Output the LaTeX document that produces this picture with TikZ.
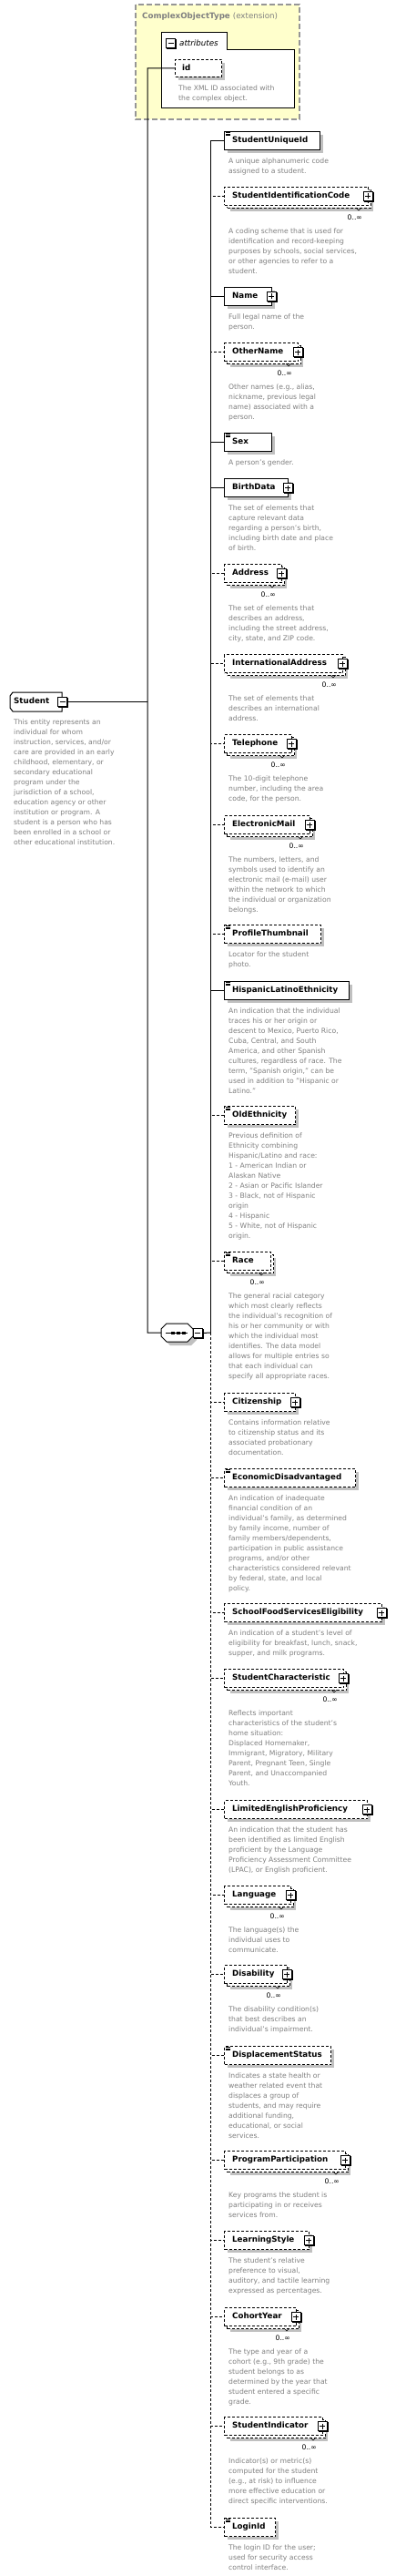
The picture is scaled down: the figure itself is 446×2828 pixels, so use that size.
\documentclass[tikz,border=0pt]{standalone}
\usepackage{fontspec}
\setmainfont{DejaVu Sans}
\usetikzlibrary{calc}
\definecolor{docgray}{RGB}{128,128,128}
\definecolor{shadowgray}{RGB}{192,192,192}
\definecolor{cotyellow}{RGB}{255,255,204}
\definecolor{cotborder}{RGB}{150,150,150}
\tikzset{
  elbox/.style={draw=black, line width=1pt, fill=white, inner sep=0pt, minimum height=20pt, anchor=north west},
  optbox/.style={dash pattern=on 3pt off 2pt},
  reqbox/.style={solid},
  nametext/.style={font=\fontsize{8.7}{10}\selectfont\bfseries, inner sep=0pt, anchor=west, text height=6.3pt, text depth=1.8pt},
  doctext/.style={font=\fontsize{7.65}{11}\selectfont, text=docgray, align=left, inner sep=0pt, anchor=north west},
  multtext/.style={font=\fontsize{7.65}{9}\selectfont, inner sep=0pt, anchor=east},
  iconbox/.style={draw=black, line width=0.8pt, fill=white, minimum size=10pt, inner sep=0pt},
  conn/.style={line width=1pt},
  optconn/.style={line width=1pt, dash pattern=on 3pt off 2pt},
}
\newcommand\iconplus[1]{%
  \node[iconbox,fill=black] at ([shift={(0.2,1.2)}]#1.east) {};
  \node[iconbox] (#1p) at ([xshift=-1pt]#1.east) {};
  \draw[line width=0.8pt] ([xshift=-3pt]#1p.center) -- ([xshift=3pt]#1p.center)
    ([yshift=-3pt]#1p.center) -- ([yshift=3pt]#1p.center);
}
\newcommand\iconeq[1]{%
  \draw[line width=0.5pt] ([shift={(2,1.5)}]#1.north west) -- ++(5,0)
    ([shift={(2,3)}]#1.north west) -- ++(5,0)
    ([shift={(2,4.5)}]#1.north west) -- ++(5,0);
}
\newcommand\iconminus[2]{% name, centre
  \node[iconbox,fill=black] at ($(#2)+(1.2,1.2)$) {};
  \node[iconbox] (#1) at (#2) {};
  \draw[line width=0.8pt] ([xshift=-3pt]#1.center) -- ([xshift=3pt]#1.center);
}
% single element: id, name, top, right, border, icon, doc
\newcommand\elS[7]{%
  \fill[shadowgray] (250,#3+4) rectangle (#4+4,#3+24);
  \node[elbox,#5,minimum width=#4-246] (#1) at (246,#3) {};
  \node[nametext] (#1t) at ([xshift=9pt]#1.west) {#2};
  \csname icon#6\endcsname{#1}
  \node[doctext] (#1d) at (251,#3+29) {#7};
}
% multiple element: id, name, top, right, icon, doc
\newcommand\elM[6]{%
  \fill[shadowgray] (253,#3+7) rectangle (#4+3,#3+27);
  \node[elbox,optbox,minimum width=#4-249] (#1b) at (249,#3+3) {};
  \node[elbox,optbox,minimum width=#4-249] (#1) at (246,#3) {};
  \draw[line width=0.6pt] (#4-16,#3+23) -- (#4-13,#3+26) -- (#4-10,#3+23);
  \node[multtext] (#1m) at (#4-9,#3+34) {0..∞};
  \node[nametext] (#1t) at ([xshift=9pt]#1.west) {#2};
  \csname icon#5\endcsname{#1}
  \node[doctext] (#1d) at (251,#3+45) {#6};
}
\begin{document}
\begin{tikzpicture}[x=1pt,y=-1pt]
\useasboundingbox[fill=white] (0,0) rectangle (446,2828);
% ComplexObjectType container
\draw[draw=cotborder, line width=1.5pt, dash pattern=on 6pt off 3pt, fill=cotyellow] (149,5) rectangle (329,131);
\node[anchor=west, inner sep=0pt, text=docgray, font=\fontsize{8.7}{10}\selectfont] (cot) at (156,18) {\bfseries ComplexObjectType \mdseries(extension)};
\draw[line width=1pt, fill=white] (177,36) -- (249,36) -- (249,55) -- (323,55) -- (323,119) -- (177,119) -- cycle;
\iconminus{attm}{187.5,47}
\node[anchor=west, inner sep=0pt, font=\fontsize{8.7}{10}\selectfont\itshape] (attt) at (197,47) {attributes};
\fill[shadowgray] (196,69) rectangle (247,88);
\node[elbox, optbox, minimum width=51, minimum height=19] (idb) at (192,65) {};
\node[nametext] (idt) at ([xshift=8pt]idb.west) {id};
\node[doctext] (idd) at (196,93) {The XML ID associated with\\the complex object.};
% Student
\node[inner sep=0pt, minimum width=57, minimum height=21, anchor=north west] (stu) at (11,760) {};
\draw[line width=1pt, fill=white] (14,760) -- (68,760) -- (68,781) -- (14,781) -- (11,777) -- (11,764) -- cycle;
\node[nametext] (stut) at (15,770.5) {Student};
\iconminus{stum}{68.5,770.5}
\node[doctext] (stud) at (15,789) {This entity represents an\\individual for whom\\instruction, services, and/or\\care are provided in an early\\childhood, elementary, or\\secondary educational\\program under the\\jurisdiction of a school,\\education agency or other\\institution or program. A\\student is a person who has\\been enrolled in a school or\\other educational institution.};
% sequence
\node[inner sep=0pt, minimum width=35, minimum height=20, anchor=north west] (seq) at (177,1453) {};
\fill[shadowgray] (187,1457) -- (210,1457) -- (216,1463) -- (216,1471) -- (210,1477) -- (187,1477) -- (181,1471) -- (181,1463) -- cycle;
\draw[line width=1pt, fill=white] (183,1453) -- (206,1453) -- (212,1459) -- (212,1467) -- (206,1473) -- (183,1473) -- (177,1467) -- (177,1459) -- cycle;
\draw[line width=1pt] (182,1463) -- (206,1463);
\fill (187.5,1461.5) rectangle ++(4,3);
\fill (193.5,1461.5) rectangle ++(4,3);
\fill (199.5,1461.5) rectangle ++(4,3);
\iconminus{seqm}{217,1463.5}
% elements
\elS{sui}{StudentUniqueId}{144}{351}{reqbox}{eq}{A unique alphanumeric code\\assigned to a student.}
\elM{sic}{StudentIdentificationCode}{205}{407}{plus}{A coding scheme that is used for\\identification and record-keeping\\purposes by schools, social services,\\or other agencies to refer to a\\student.}
\elS{nam}{Name}{315}{298}{reqbox}{plus}{Full legal name of the\\person.}
\elM{oth}{OtherName}{376}{330}{plus}{Other names (e.g., alias,\\nickname, previous legal\\name) associated with a\\person.}
\elS{sex}{Sex}{475}{298}{reqbox}{eq}{A person's gender.}
\elS{bir}{BirthData}{525}{316}{reqbox}{plus}{The set of elements that\\capture relevant data\\regarding a person's birth,\\including birth date and place\\of birth.}
\elM{adr}{Address}{619}{312}{plus}{The set of elements that\\describes an address,\\including the street address,\\city, state, and ZIP code.}
\elM{ina}{InternationalAddress}{718}{379}{plus}{The set of elements that\\describes an international\\address.}
\elM{tel}{Telephone}{806}{323}{plus}{The 10-digit telephone\\number, including the area\\code, for the person.}
\elM{eml}{ElectronicMail}{895}{343}{plus}{The numbers, letters, and\\symbols used to identify an\\electronic mail (e-mail) user\\within the network to which\\the individual or organization\\belongs.}
\elS{pth}{ProfileThumbnail}{1015}{352}{optbox}{eq}{Locator for the student\\photo.}
\elS{hle}{HispanicLatinoEthnicity}{1077}{383}{reqbox}{eq}{An indication that the individual\\traces his or her origin or\\descent to Mexico, Puerto Rico,\\Cuba, Central, and South\\America, and other Spanish\\cultures, regardless of race. The\\term, "Spanish origin," can be\\used in addition to "Hispanic or\\Latino."}
\elS{old}{OldEthnicity}{1214}{324}{optbox}{eq}{Previous definition of\\Ethnicity combining\\Hispanic/Latino and race:\\1 - American Indian or\\Alaskan Native\\2 - Asian or Pacific Islander\\3 - Black, not of Hispanic\\origin\\4 - Hispanic\\5 - White, not of Hispanic\\origin.}
\elM{rac}{Race}{1374}{300}{eq}{The general racial category\\which most clearly reflects\\the individual's recognition of\\his or her community or with\\which the individual most\\identifies. The data model\\allows for multiple entries so\\that each individual can\\specify all appropriate races.}
\elS{cit}{Citizenship}{1529}{324}{optbox}{plus}{Contains information relative\\to citizenship status and its\\associated probationary\\documentation.}
\elS{eco}{EconomicDisadvantaged}{1612}{390}{optbox}{eq}{An indication of inadequate\\financial condition of an\\individual's family, as determined\\by family income, number of\\family members/dependents,\\participation in public assistance\\programs, and/or other\\characteristics considered relevant\\by federal, state, and local\\policy.}
\elS{sfs}{SchoolFoodServicesEligibility}{1760}{419}{optbox}{plus}{An indication of a student's level of\\eligibility for breakfast, lunch, snack,\\supper, and milk programs.}
\elM{sch}{StudentCharacteristic}{1832}{380}{plus}{Reflects important\\characteristics of the student's\\home situation:\\Displaced Homemaker,\\Immigrant, Migratory, Military\\Parent, Pregnant Teen, Single\\Parent, and Unaccompanied\\Youth.}
\elS{lep}{LimitedEnglishProficiency}{1976}{403}{optbox}{plus}{An indication that the student has\\been identified as limited English\\proficient by the Language\\Proficiency Assessment Committee\\(LPAC), or English proficient.}
\elM{lan}{Language}{2070}{322}{plus}{The language(s) the\\individual uses to\\communicate.}
\elM{dis}{Disability}{2157}{318}{plus}{The disability condition(s)\\that best describes an\\individual's impairment.}
\elS{dsp}{DisplacementStatus}{2246}{363}{optbox}{eq}{Indicates a state health or\\weather related event that\\displaces a group of\\students, and may require\\additional funding,\\educational, or social\\services.}
\elM{prg}{ProgramParticipation}{2361}{382}{plus}{Key programs the student is\\participating in or receives\\services from.}
\elS{lst}{LearningStyle}{2449}{339}{optbox}{plus}{The student's relative\\preference to visual,\\auditory, and tactile learning\\expressed as percentages.}
\elM{coh}{CohortYear}{2533}{328}{plus}{The type and year of a\\cohort (e.g., 9th grade) the\\student belongs to as\\determined by the year that\\student entered a specific\\grade.}
\elM{sin}{StudentIndicator}{2653}{357}{plus}{Indicator(s) or metric(s)\\computed for the student\\(e.g., at risk) to influence\\more effective education or\\direct specific interventions.}
\elS{log}{LoginId}{2764}{302}{optbox}{eq}{The login ID for the user;\\used for security access\\control interface.}
% connectors
\coordinate (j) at (162,1463);
\coordinate (seqR) at (231,1463);
\draw[conn] (seq.west) -- (j) |- (idb.west);
\draw[conn] (stum.east) -- (j |- stum.east);
\draw[conn] (seqm.east) -- (seqR);
\foreach \n in {sui,nam,sex,bir,hle} \draw[conn] (seqR) |- (\n.west);
\foreach \n in {sic,oth,adr,ina,tel,eml,pth,old,rac,cit,eco,sfs,sch,lep,lan,dis,dsp,prg,lst,coh,sin,log} \draw[optconn] (seqR) |- (\n.west);
\end{tikzpicture}
\end{document}
